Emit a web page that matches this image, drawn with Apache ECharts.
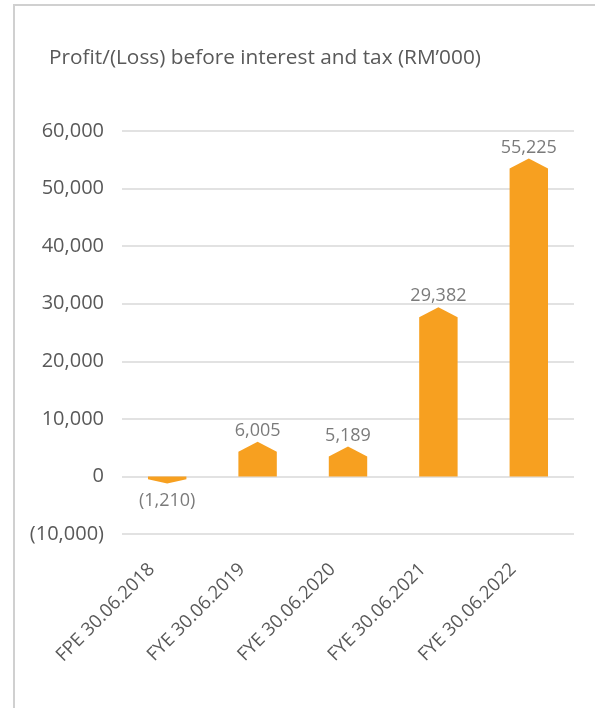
<!DOCTYPE html>
<html>
<head>
<meta charset="utf-8">
<script src="https://cdn.jsdelivr.net/npm/echarts@6/dist/echarts.min.js"></script>
<style>
  html, body { margin: 0; padding: 0; background: #ffffff; }
  #chart { width: 595px; height: 708px; }
</style>
</head>
<body>
<div id="chart"></div>
<script>
// Period labels along the horizontal axis
const periods = ['FPE 30.06.2018', 'FYE 30.06.2019', 'FYE 30.06.2020', 'FYE 30.06.2021', 'FYE 30.06.2022'];
// Profit/(Loss) before interest and tax, RM'000
const pbit = [-1210, 6005, 5189, 29382, 55225];
// Value axis range and step
const axisMin = -10000;
const axisMax = 60000;
const axisStep = 10000;

const FONT = '"Open Sans", "Noto Sans", sans-serif';
const TEXT = '#595959';
const BAR = '#F7A020';

// Accounting style: thousands separators, negatives in brackets
function fmt(v) {
  const s = Math.abs(v).toLocaleString('en-US');
  return v < 0 ? '(' + s + ')' : s;
}

const chart = echarts.init(document.getElementById('chart'), null, { renderer: 'canvas' });

// Bar with a pointed end: rectangle plus a triangular tip reaching the value
function renderArrowBar(params, api) {
  const idx = api.value(0);
  const val = api.value(1);
  const tipPt = api.coord([idx, val]);
  const basePt = api.coord([idx, 0]);
  const band = api.size([1, 0])[0];
  const w = band * 0.425;
  const x0 = tipPt[0] - w / 2;
  const x1 = tipPt[0] + w / 2;
  const dir = val >= 0 ? 1 : -1;      // +1 grows upward on screen
  const span = Math.abs(basePt[1] - tipPt[1]);
  const tipH = Math.min(10, span * 0.6);
  const shoulderY = tipPt[1] + dir * tipH;
  return {
    type: 'polygon',
    shape: {
      points: [
        [x0, basePt[1]],
        [x0, shoulderY],
        [tipPt[0], tipPt[1]],
        [x1, shoulderY],
        [x1, basePt[1]]
      ]
    },
    style: { fill: BAR }
  };
}

const option = {
  animation: false,
  backgroundColor: '#ffffff',
  title: {
    text: 'Profit/(Loss) before interest and tax (RM\u2019000)',
    left: 260,
    textAlign: 'center',
    top: 43,
    textStyle: { fontFamily: FONT, fontSize: 20.8, fontWeight: 'normal', color: TEXT }
  },
  graphic: [{
    type: 'polyline',
    shape: { points: [[14, 720], [14, 5], [610, 5]] },
    style: { stroke: '#d0d0d0', lineWidth: 2, fill: null },
    silent: true
  }],
  grid: { left: 122, right: 21, top: 131, bottom: 174 },
  xAxis: {
    type: 'category',
    data: periods,
    axisLine: { show: false, onZero: false },
    axisTick: { show: false },
    splitLine: { show: false },
    axisLabel: {
      rotate: 45,
      margin: 17,
      padding: [0, 22, 0, 0],
      fontFamily: FONT,
      fontSize: 18.5,
      color: TEXT,
      interval: 0
    }
  },
  yAxis: {
    type: 'value',
    min: axisMin,
    max: axisMax,
    interval: axisStep,
    axisLine: { show: false },
    axisTick: { show: false },
    splitLine: { lineStyle: { color: '#d9d9d9', width: 1.5 } },
    axisLabel: {
      margin: 18,
      fontFamily: FONT,
      fontSize: 20,
      color: TEXT,
      formatter: fmt
    }
  },
  series: [
    {
      type: 'custom',
      renderItem: renderArrowBar,
      encode: { x: 0, y: 1 },
      data: pbit.map((v, i) => [i, v]),
      z: 3
    },
    {
      // value labels placed just beyond each bar tip
      type: 'scatter',
      symbolSize: 0,
      silent: true,
      data: pbit.map((v, i) => ({
        value: [i, v],
        label: { position: v < 0 ? 'bottom' : 'top', distance: v < 0 ? 8 : 2 }
      })),
      label: {
        show: true,
        fontFamily: FONT,
        fontSize: 18,
        color: TEXT,
        formatter: p => fmt(p.value[1])
      }
    }
  ]
};

chart.setOption(option);
</script>
</body>
</html>
